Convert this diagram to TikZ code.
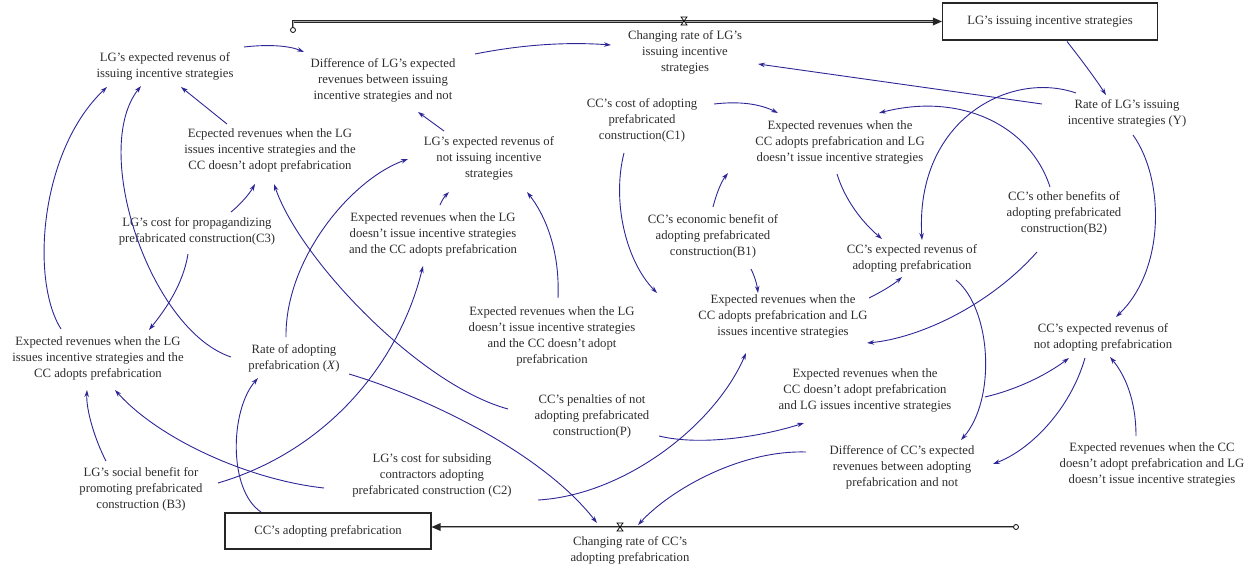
\documentclass[tikz,border=0pt]{standalone}
\usepackage{fontspec}
\setmainfont{Liberation Serif}
\usetikzlibrary{arrows.meta,calc}
\definecolor{linkc}{RGB}{45,38,150}
\definecolor{txt}{RGB}{45,45,45}
\begin{document}
\begin{tikzpicture}[x=1pt,y=-1pt,
  lbl/.style={align=center,inner sep=0pt,text=txt,font=\fontsize{12.7}{16}\selectfont},
  stockbox/.style={draw=black!85,line width=1.1pt,inner sep=0pt,text=txt,font=\fontsize{12.7}{16}\selectfont},
  link/.style={draw=linkc,line width=0.9pt,-{Stealth[length=7pt,width=4.5pt]}},
  pipe/.style={draw=black!85,line width=0.8pt,double=black!35,double distance=0.8pt},
  valvestyle/.style={draw=black,line width=0.7pt,fill=white}]
\useasboundingbox (0,0) rectangle (1258,568);

% ---- nodes ----
\node[lbl] (lgIss) at (165,66) {LG’s expected revenus of\\issuing incentive strategies};
\node[lbl] (lgDiff) at (383,80) {Difference of LG’s expected\\revenues between issuing\\incentive strategies and not};
\node[lbl] (lgRate) at (685,52) {Changing rate of LG’s\\issuing incentive\\strategies};
\node[stockbox,minimum width=215,minimum height=37] (lgStock) at (1050,21.5) {LG’s issuing incentive strategies};
\node[lbl] (eLGiCCn) at (270,150) {Ecpected revenues when the LG\\issues incentive strategies and the\\CC doesn’t adopt prefabrication};
\node[lbl] (lgNot) at (489,158) {LG’s expected revenus of\\not issuing incentive\\strategies};
\node[lbl] (c1) at (642,120) {CC’s cost of adopting\\prefabricated\\construction(C1)};
\node[lbl] (eCCaLGn) at (840,142) {Expected revenues when the\\CC adopts prefabrication and LG\\doesn’t issue incentive strategies};
\node[lbl] (rateY) at (1127,113) {Rate of LG’s issuing\\incentive strategies (Y)};
\node[lbl] (c3) at (197,231) {LG’s cost for propagandizing\\prefabricated construction(C3)};
\node[lbl] (eLGnCCa) at (433,234) {Expected revenues when the LG\\doesn’t issue incentive strategies\\and the CC adopts prefabrication};
\node[lbl] (b1) at (713,236) {CC’s economic benefit of\\adopting prefabricated\\construction(B1)};
\node[lbl] (ccAdopt) at (912,258) {CC’s expected revenus of\\adopting prefabrication};
\node[lbl] (b2) at (1064,213) {CC’s other benefits of\\adopting prefabricated\\construction(B2)};
\node[lbl] (eCCaLGi) at (783,316) {Expected revenues when the\\CC adopts prefabrication and LG\\issues incentive strategies};
\node[lbl] (eLGnCCn) at (552,336) {Expected revenues when the LG\\doesn’t issue incentive strategies\\and the CC doesn’t adopt\\prefabrication};
\node[lbl] (ccNot) at (1103,337) {CC’s expected revenus of\\not adopting prefabrication};
\node[lbl] (eLGiCCa) at (98,358) {Expected revenues when the LG\\issues incentive strategies and the\\CC adopts prefabrication};
\node[lbl] (rateX) at (294,358) {Rate of adopting\\prefabrication (\textit{X})};
\node[lbl] (eCCnLGi) at (865,390) {Expected revenues when the\\CC doesn’t adopt prefabrication\\and LG issues incentive strategies};
\node[lbl] (p) at (592,416) {CC’s penalties of not\\adopting prefabricated\\construction(P)};
\node[lbl] (ccDiff) at (902,467) {Difference of CC’s expected\\revenues between adopting\\prefabrication and not};
\node[lbl] (eCCnLGn) at (1152,464) {Expected revenues when the CC\\doesn’t adopt prefabrication and LG\\doesn’t issue incentive strategies};
\node[lbl] (b3) at (141,489) {LG’s social benefit for\\promoting prefabricated\\construction (B3)};
\node[lbl] (c2) at (432,475) {LG’s cost for subsiding\\contractors adopting\\prefabricated construction (C2)};
\node[stockbox,minimum width=206,minimum height=36] (ccStock) at (328,531) {CC’s adopting prefabrication};
\node[lbl] (ccRate) at (630,550) {Changing rate of CC’s\\adopting prefabrication};

% ---- flows ----
\coordinate (cloudT) at (293,30);
\coordinate (cloudB) at (1016,527);
\draw[pipe] ($(cloudT)+(0,-3)$) |- ($(lgStock.west)+(-8,0)$);
\fill[black!85] (lgStock.west) -- ++(-9,-4) -- ++(0,8) -- cycle;
\draw[line width=0.8pt,fill=white] (cloudT) circle (2.5);
\draw[valvestyle] (681,17) -- (687,17) -- (681,25) -- (687,25) -- cycle;

\draw[pipe] ($(cloudB)+(-3,0)$) -- ($(ccStock.east)+(8,-4)$);
\fill[black!85] ($(ccStock.east)+(0,-4)$) -- ++(9,-4) -- ++(0,8) -- cycle;
\draw[line width=0.8pt,fill=white] (cloudB) circle (2.5);
\draw[valvestyle] (617,523) -- (623,523) -- (617,531) -- (623,531) -- cycle;

% ---- connectors ----
\draw[link] ($(lgIss)+(79,-19)$) .. controls (270,44) and (290,46) .. ($(lgDiff)+(-79,-28)$);
\draw[link] ($(lgDiff)+(92,-26)$) .. controls (525,44) and (570,42) .. ($(lgRate)+(-74,-7)$);
\draw[link] ($(lgNot)+(-45,-27)$) -- ($(lgDiff)+(35,32)$);
\draw[link] ($(eLGiCCn)+(-43,-26)$) -- ($(lgIss)+(16,21)$);
\draw[link] ($(c3)+(34,-19)$) .. controls (241,204) and (250,193) .. ($(eLGiCCn)+(-15,34)$);
\draw[link] ($(eLGnCCa)+(7,-29)$) .. controls (442,200) and (445,196) .. ($(lgNot)+(-40,34)$);
\draw[link] ($(c1)+(72,-16)$) .. controls (740,101) and (760,104) .. ($(eCCaLGn)+(-62,-29)$);
\draw[link] ($(c1)+(-18,33)$) .. controls (612,200) and (625,260) .. ($(eCCaLGi)+(-126,-23)$);
\draw[link] ($(b1)+(0,-29)$) .. controls (716,195) and (721,182) .. ($(eCCaLGn)+(-112,31)$);
\draw[link] ($(b1)+(38,33)$) .. controls (755,277) and (757,285) .. ($(eCCaLGi)+(-25,-23)$);
\draw[link] ($(eCCaLGn)+(-3,32)$) .. controls (845,200) and (862,222) .. ($(ccAdopt)+(-30,-19)$);
\draw[link] ($(eCCaLGi)+(86,-18)$) .. controls (881,292) and (893,285) .. ($(ccAdopt)+(-10,19)$);
\draw[link] ($(b2)+(-27,39)$) .. controls (990,305) and (920,338) .. ($(eCCaLGi)+(84,27)$);
\draw[link] ($(ccAdopt)+(44,22)$) .. controls (992,310) and (996,400) .. ($(ccDiff)+(59,-27)$);
\draw[link] ($(rateY)+(6,22)$) .. controls (1165,180) and (1165,270) .. ($(ccNot)+(13,-20)$);
\draw[link] ($(eCCnLGi)+(120,7)$) .. controls (1015,390) and (1045,376) .. ($(ccNot)+(-34,21)$);
\draw[link] ($(ccNot)+(-18,21)$) .. controls (1070,410) and (1030,450) .. ($(ccDiff)+(91,-3)$);
\draw[link] ($(eCCnLGn)+(-16,-28)$) .. controls (1136,400) and (1125,375) .. ($(ccNot)+(7,20)$);
\draw[link] ($(p)+(67,20)$) .. controls (700,446) and (760,437) .. ($(eCCnLGi)+(-61,33)$);
\draw[link] ($(c2)+(106,25)$) .. controls (625,495) and (715,425) .. ($(eCCaLGi)+(-37,37)$);
\draw[link] ($(ccDiff)+(-96,-15)$) .. controls (740,450) and (670,490) .. ($(ccRate)+(8,-25)$);
\draw[link] ($(rateX)+(55,16)$) .. controls (420,395) and (540,450) .. ($(ccRate)+(-33,-27)$);
\draw[link] ($(ccStock)+(-67,-19)$) .. controls (228,490) and (230,410) .. ($(rateX)+(-36,20)$);
\draw[link] ($(rateX)+(-8,-21)$) .. controls (285,260) and (350,180) .. ($(lgNot)+(-81,1)$);
\draw[link] ($(rateX)+(-63,-1)$) .. controls (150,330) and (90,150) .. ($(lgIss)+(-24,20)$);
\draw[link] ($(eLGiCCa)+(-37,-29)$) .. controls (30,280) and (40,150) .. ($(lgIss)+(-58,21)$);
\draw[link] ($(c3)+(-9,23)$) .. controls (183,285) and (165,310) .. ($(eLGiCCa)+(51,-28)$);
\draw[link] ($(b3)+(-35,-28)$) .. controls (95,440) and (86,410) .. ($(eLGiCCa)+(-11,32)$);
\draw[link] ($(c2)+(-108,13)$) .. controls (250,480) and (160,440) .. ($(eLGiCCa)+(17,32)$);
\draw[link] ($(b3)+(77,-6)$) .. controls (330,450) and (400,360) .. ($(eLGnCCa)+(-10,32)$);
\draw[link] ($(p)+(-84,-7)$) .. controls (420,385) and (300,260) .. ($(eLGiCCn)+(4,34)$);
\draw[link] ($(eLGnCCn)+(6,-38)$) .. controls (560,250) and (545,215) .. ($(lgNot)+(38,34)$);
\draw[link] ($(rateY)+(-51,-20)$) .. controls (1010,70) and (915,120) .. ($(ccAdopt)+(10,-18)$);
\draw[link] ($(b2)+(-14,-26)$) .. controls (1030,125) and (960,92) .. ($(eCCaLGn)+(39,-29)$);
\draw[link] ($(rateY)+(-85,-9)$) -- ($(lgRate)+(73,12)$);
\draw[link] ($(lgStock)+(17,20)$) .. controls (1080,58) and (1095,78) .. ($(rateY)+(-21,-18)$);
\end{tikzpicture}
\end{document}
